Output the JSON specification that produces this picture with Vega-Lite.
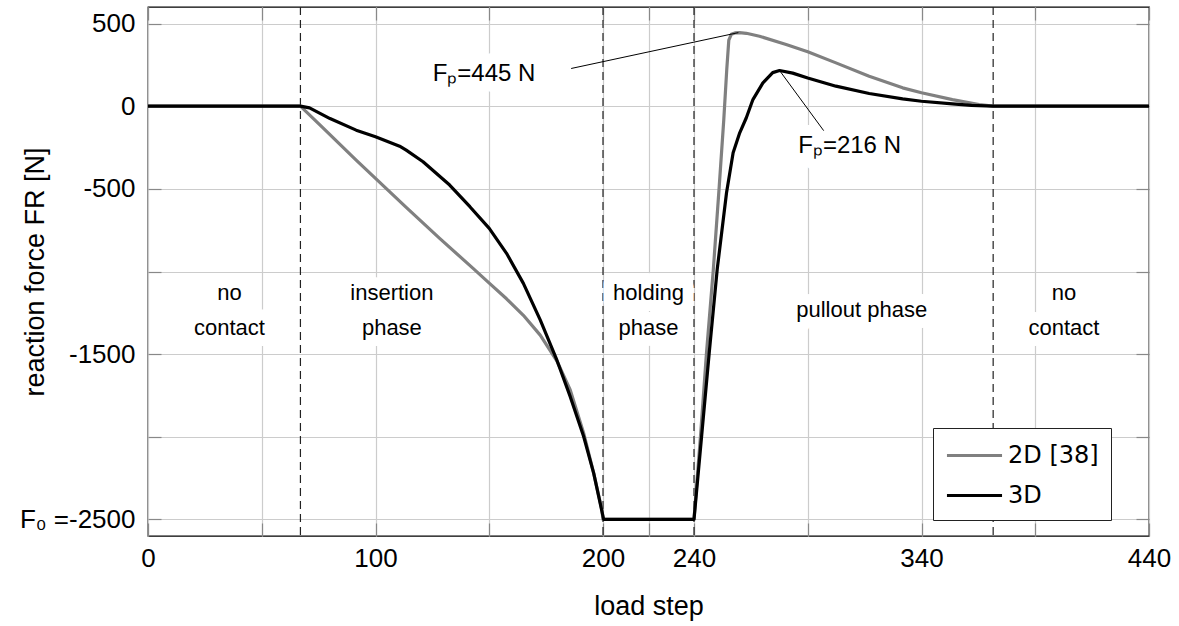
{
  "$schema": "https://vega.github.io/schema/vega-lite/v6.json",
  "width": 1001,
  "height": 529,
  "autosize": {"type": "none"},
  "padding": {"left": 148, "top": 7, "right": 30, "bottom": 90},
  "background": "white",
  "config": {
    "view": {"stroke": "#000000", "strokeWidth": 1.3},
    "font": "Liberation Sans",
    "axis": {
      "domain": false,
      "gridColor": "#cccccc",
      "gridWidth": 1.2,
      "tickColor": "#888888",
      "tickWidth": 1.2,
      "tickSize": -13,
      "labelFont": "Liberation Sans",
      "labelFontSize": 26,
      "labelColor": "#000000",
      "titleFont": "Liberation Sans",
      "titleFontSize": 27,
      "titleFontWeight": "normal",
      "titleColor": "#000000",
      "labelOverlap": false,
      "labelFlush": false
    }
  },
  "datasets": {
    "curves": [
      {"series": "2D [38]", "step": 0, "force": 0},
      {"series": "2D [38]", "step": 67, "force": 0},
      {"series": "2D [38]", "step": 76.8, "force": -130},
      {"series": "2D [38]", "step": 91.5, "force": -326},
      {"series": "2D [38]", "step": 100, "force": -437},
      {"series": "2D [38]", "step": 113.5, "force": -612},
      {"series": "2D [38]", "step": 128.2, "force": -800},
      {"series": "2D [38]", "step": 142.9, "force": -981},
      {"series": "2D [38]", "step": 150, "force": -1070},
      {"series": "2D [38]", "step": 157.6, "force": -1165},
      {"series": "2D [38]", "step": 165, "force": -1265},
      {"series": "2D [38]", "step": 172.4, "force": -1385},
      {"series": "2D [38]", "step": 179.7, "force": -1540},
      {"series": "2D [38]", "step": 185.6, "force": -1716},
      {"series": "2D [38]", "step": 191.5, "force": -1978},
      {"series": "2D [38]", "step": 195.9, "force": -2220},
      {"series": "2D [38]", "step": 199.5, "force": -2442},
      {"series": "2D [38]", "step": 200, "force": -2500},
      {"series": "2D [38]", "step": 240, "force": -2500},
      {"series": "2D [38]", "step": 242.9, "force": -1988},
      {"series": "2D [38]", "step": 245.5, "force": -1491},
      {"series": "2D [38]", "step": 248.5, "force": -987},
      {"series": "2D [38]", "step": 251.1, "force": -483},
      {"series": "2D [38]", "step": 253.1, "force": -80},
      {"series": "2D [38]", "step": 254.4, "force": 222},
      {"series": "2D [38]", "step": 255.3, "force": 400},
      {"series": "2D [38]", "step": 256.4, "force": 435},
      {"series": "2D [38]", "step": 258, "force": 443},
      {"series": "2D [38]", "step": 260, "force": 445},
      {"series": "2D [38]", "step": 263, "force": 441},
      {"series": "2D [38]", "step": 268.8, "force": 423},
      {"series": "2D [38]", "step": 280.5, "force": 373},
      {"series": "2D [38]", "step": 290, "force": 329},
      {"series": "2D [38]", "step": 302.4, "force": 262},
      {"series": "2D [38]", "step": 317, "force": 181},
      {"series": "2D [38]", "step": 331.7, "force": 111},
      {"series": "2D [38]", "step": 340, "force": 81},
      {"series": "2D [38]", "step": 353.6, "force": 40},
      {"series": "2D [38]", "step": 365.3, "force": 10},
      {"series": "2D [38]", "step": 371.5, "force": 0},
      {"series": "2D [38]", "step": 440, "force": 0},
      {"series": "3D", "step": 0, "force": 0},
      {"series": "3D", "step": 67, "force": 0},
      {"series": "3D", "step": 71, "force": -10},
      {"series": "3D", "step": 80, "force": -75},
      {"series": "3D", "step": 91.5, "force": -145},
      {"series": "3D", "step": 100, "force": -185},
      {"series": "3D", "step": 110.6, "force": -242},
      {"series": "3D", "step": 113.5, "force": -266},
      {"series": "3D", "step": 120.9, "force": -336},
      {"series": "3D", "step": 132.6, "force": -477},
      {"series": "3D", "step": 141.5, "force": -608},
      {"series": "3D", "step": 150, "force": -739},
      {"series": "3D", "step": 157.6, "force": -890},
      {"series": "3D", "step": 165, "force": -1072},
      {"series": "3D", "step": 172.4, "force": -1293},
      {"series": "3D", "step": 179.7, "force": -1535},
      {"series": "3D", "step": 185.6, "force": -1757},
      {"series": "3D", "step": 191.5, "force": -1998},
      {"series": "3D", "step": 195.9, "force": -2220},
      {"series": "3D", "step": 200.3, "force": -2500},
      {"series": "3D", "step": 240, "force": -2500},
      {"series": "3D", "step": 243.4, "force": -1988},
      {"series": "3D", "step": 246.7, "force": -1491},
      {"series": "3D", "step": 250.2, "force": -987},
      {"series": "3D", "step": 254.3, "force": -524},
      {"series": "3D", "step": 257.2, "force": -282},
      {"series": "3D", "step": 260.1, "force": -161},
      {"series": "3D", "step": 263, "force": -70},
      {"series": "3D", "step": 265.9, "force": 40},
      {"series": "3D", "step": 270.3, "force": 141},
      {"series": "3D", "step": 274.6, "force": 203},
      {"series": "3D", "step": 277.6, "force": 216},
      {"series": "3D", "step": 283.4, "force": 200},
      {"series": "3D", "step": 290, "force": 171},
      {"series": "3D", "step": 302.4, "force": 121},
      {"series": "3D", "step": 317, "force": 77},
      {"series": "3D", "step": 331.7, "force": 44},
      {"series": "3D", "step": 340, "force": 30},
      {"series": "3D", "step": 353.6, "force": 14},
      {"series": "3D", "step": 362, "force": 5},
      {"series": "3D", "step": 371.5, "force": 0},
      {"series": "3D", "step": 440, "force": 0}
    ],
    "bounds": [{"step": 67}, {"step": 200}, {"step": 240}, {"step": 371.5}],
    "phases": [
      {"label": "no\ncontact", "step": 35.8, "force": -1175},
      {"label": "insertion\nphase", "step": 107.2, "force": -1175},
      {"label": "holding\nphase", "step": 220, "force": -1175},
      {"label": "pullout phase", "step": 313.7, "force": -1275},
      {"label": "no\ncontact", "step": 402.6, "force": -1175}
    ],
    "notes": [
      {"label": "Fₚ=445 N", "step": 147.7, "force": 151},
      {"label": "Fₚ=216 N", "step": 308.4, "force": -283}
    ],
    "leaders": [
      {"step": 186, "force": 228, "step2": 259.5, "force2": 445},
      {"step": 277.6, "force": 216, "step2": 297, "force2": -148}
    ]
  },
  "layer": [
    {
      "data": {"name": "bounds"},
      "mark": {"type": "rule", "color": "#222222", "strokeWidth": 1.2, "strokeDash": [8, 5]},
      "encoding": {
        "x": {"field": "step", "type": "quantitative", "axis": null, "scale": {"domain": [0, 440], "nice": false, "zero": false}}
      }
    },
    {
      "data": {"name": "phases"},
      "mark": {"type": "text", "lineBreak": "\n", "lineHeight": 35, "fontSize": 22, "align": "center", "baseline": "alphabetic", "color": "white", "stroke": "white", "strokeWidth": 22, "strokeJoin": "round"},
      "encoding": {
        "x": {"field": "step", "type": "quantitative", "axis": null},
        "y": {"field": "force", "type": "quantitative", "axis": null},
        "text": {"field": "label", "type": "nominal"}
      }
    },
    {
      "data": {"name": "notes"},
      "mark": {"type": "text", "fontSize": 24, "align": "center", "baseline": "alphabetic", "color": "white", "stroke": "white", "strokeWidth": 22, "strokeJoin": "round"},
      "encoding": {
        "x": {"field": "step", "type": "quantitative", "axis": null},
        "y": {"field": "force", "type": "quantitative", "axis": null},
        "text": {"field": "label", "type": "nominal"}
      }
    },
    {
      "data": {"name": "curves"},
      "mark": {"type": "line", "strokeWidth": 3.2, "strokeJoin": "round"},
      "encoding": {
        "x": {
          "field": "step", "type": "quantitative",
          "scale": {"domain": [0, 440], "nice": false, "zero": false},
          "axis": {
            "orient": "bottom",
            "title": "load step",
            "values": [0, 50, 100, 150, 200, 220, 240, 290, 340, 390, 440],
            "labelExpr": "indexof([0,100,200,240,340,440], datum.value) >= 0 ? '' + datum.value : ''",
            "grid": true,
            "labelPadding": 22,
            "titlePadding": 22
          }
        },
        "y": {
          "field": "force", "type": "quantitative",
          "scale": {"domain": [-2600, 600], "nice": false, "zero": false},
          "axis": {
            "orient": "left",
            "title": "reaction force FR [N]",
            "values": [500, 0, -500, -1000, -1500, -2000, -2500],
            "labelExpr": "datum.value == -2500 ? 'F₀ =-2500' : ((datum.value == -1000 || datum.value == -2000) ? '' : '' + datum.value)",
            "grid": true,
            "labelPadding": 26,
            "titleX": -105,
            "titleY": 264.5,
            "titleAngle": 270,
            "titleAlign": "center",
            "titleBaseline": "alphabetic"
          }
        },
        "color": {
          "field": "series", "type": "nominal",
          "scale": {"domain": ["2D [38]", "3D"], "range": ["#808080", "#000000"]},
          "legend": {
            "orient": "none",
            "legendX": 785,
            "legendY": 421,
            "title": null,
            "strokeColor": "#222222",
            "fillColor": "white",
            "padding": 12,
            "symbolType": "M-2.04,0L2.04,0",
            "symbolSize": 729,
            "symbolOffset": 14,
            "symbolStrokeWidth": 3.2,
            "labelFontSize": 24,
            "labelFont": "DejaVu Sans",
            "labelColor": "#000000",
            "labelOffset": 18,
            "rowPadding": 12
          }
        }
      }
    },
    {
      "data": {"name": "leaders"},
      "mark": {"type": "rule", "color": "#000000", "strokeWidth": 1},
      "encoding": {
        "x": {
          "field": "step", "type": "quantitative",
          "axis": {"orient": "top", "title": null, "labels": false, "grid": false, "values": [0, 50, 100, 150, 200, 220, 240, 290, 340, 390, 440]}
        },
        "y": {
          "field": "force", "type": "quantitative",
          "axis": {"orient": "right", "title": null, "labels": false, "grid": false, "values": [500, 0, -500, -1000, -1500, -2000, -2500]}
        },
        "x2": {"field": "step2"},
        "y2": {"field": "force2"}
      }
    },
    {
      "data": {"name": "phases"},
      "mark": {"type": "text", "lineBreak": "\n", "lineHeight": 35, "fontSize": 22, "align": "center", "baseline": "alphabetic", "color": "#000000"},
      "encoding": {
        "x": {"field": "step", "type": "quantitative", "axis": null},
        "y": {"field": "force", "type": "quantitative", "axis": null},
        "text": {"field": "label", "type": "nominal"}
      }
    },
    {
      "data": {"name": "notes"},
      "mark": {"type": "text", "fontSize": 24, "align": "center", "baseline": "alphabetic", "color": "#000000"},
      "encoding": {
        "x": {"field": "step", "type": "quantitative", "axis": null},
        "y": {"field": "force", "type": "quantitative", "axis": null},
        "text": {"field": "label", "type": "nominal"}
      }
    }
  ],
  "resolve": {"axis": {"x": "independent", "y": "independent"}}
}
